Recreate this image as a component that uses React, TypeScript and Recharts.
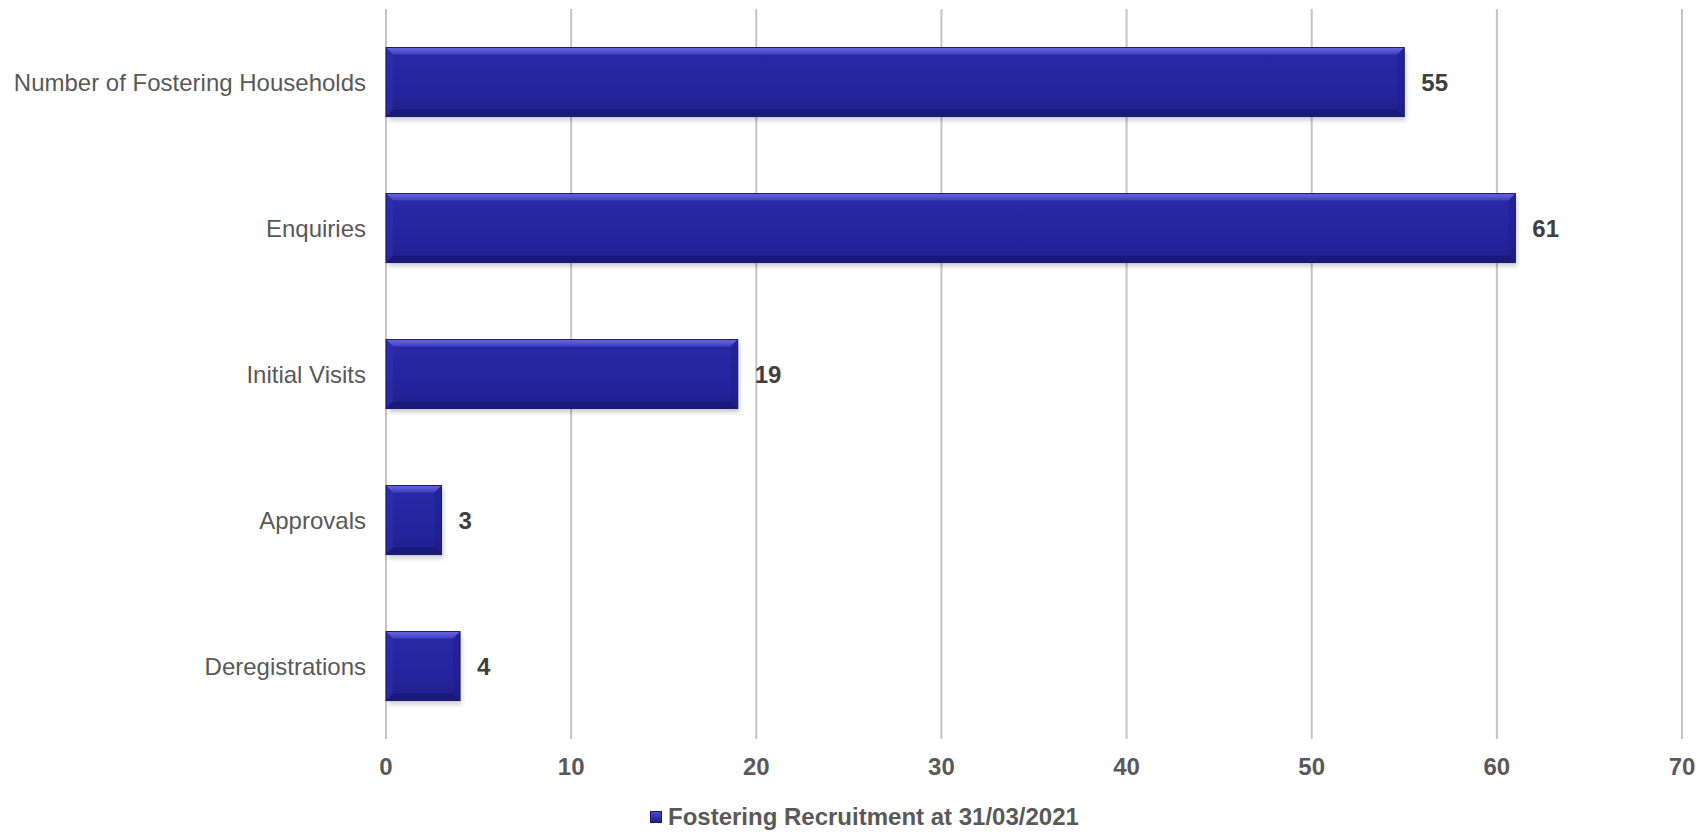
import { Bar, BarChart, CartesianGrid, LabelList, Legend, XAxis, YAxis } from "recharts";

const CATEGORIES = [
  "Number of Fostering Households",
  "Enquiries",
  "Initial Visits",
  "Approvals",
  "Deregistrations",
];
const VALUES = [55, 61, 19, 3, 4];
const X_TICKS = [0, 10, 20, 30, 40, 50, 60, 70];
const SERIES_NAME = "Fostering Recruitment at 31/03/2021";

const data = CATEGORIES.map((name, i) => ({ name, value: VALUES[i] }));

const FONT = "Arial, 'Liberation Sans', sans-serif";

// bevelled bar like the office chart style
const BevelBar = (props: any) => {
  const { x, y, width, height } = props;
  if (!width || width <= 0) return null;
  const b = Math.min(7, width / 2);
  return (
    <g>
      <rect x={x + 2} y={y + 4} width={width} height={height} fill="#000" opacity={0.18} filter="url(#barShadow)" />
      <rect x={x} y={y} width={width} height={height} fill="url(#barBody)" />
      {/* top bevel */}
      <polygon
        points={`${x},${y} ${x + width},${y} ${x + width - b},${y + b} ${x + b},${y + b}`}
        fill="url(#bevelTop)"
      />
      {/* left bevel */}
      <polygon
        points={`${x},${y} ${x + b},${y + b} ${x + b},${y + height - b} ${x},${y + height}`}
        fill="#3030b4"
        opacity={0.5}
      />
      {/* right bevel */}
      <polygon
        points={`${x + width},${y} ${x + width},${y + height} ${x + width - b},${y + height - b} ${x + width - b},${y + b}`}
        fill="#1c1c80"
        opacity={0.4}
      />
      {/* bottom bevel */}
      <polygon
        points={`${x},${y + height} ${x + width},${y + height} ${x + width - b},${y + height - b} ${x + b},${y + height - b}`}
        fill="#17176c"
        opacity={0.7}
      />
      <rect x={x} y={y} width={width} height={height} fill="none" stroke="#1a1a70" strokeWidth={1} />
    </g>
  );
};

const LegendContent = () => (
  <div style={{ display: "flex", alignItems: "center", height: 34, fontFamily: FONT }}>
    <span
      style={{
        width: 12,
        height: 12,
        background: "linear-gradient(#4a4ad4, #1e1e8c)",
        border: "1px solid #1a1a70",
        boxSizing: "border-box",
        marginRight: 6,
      }}
    />
    <span style={{ fontSize: 24, fontWeight: "bold", color: "#595959", whiteSpace: "nowrap" }}>{SERIES_NAME}</span>
  </div>
);

export default function App() {
  return (
    <div style={{ position: "absolute", left: 0, top: 0, background: "#fff" }}>
      <BarChart
        width={1704}
        height={834}
        data={data}
        layout="vertical"
        margin={{ top: 9, right: 22, bottom: 0, left: 0 }}
        barCategoryGap="26.4%"
      >
        <defs>
          <linearGradient id="barBody" x1="0" y1="0" x2="0" y2="1">
            <stop offset="0%" stopColor="#2a2aa8" />
            <stop offset="50%" stopColor="#2525a2" />
            <stop offset="100%" stopColor="#20208f" />
          </linearGradient>
          <linearGradient id="bevelTop" x1="0" y1="0" x2="0" y2="1">
            <stop offset="0%" stopColor="#6a6ae0" />
            <stop offset="100%" stopColor="#3d3dc0" />
          </linearGradient>
          <filter id="barShadow" x="-10%" y="-10%" width="120%" height="130%">
            <feGaussianBlur stdDeviation="2" />
          </filter>
        </defs>
        <CartesianGrid horizontal={false} vertical stroke="#c4c4c4" strokeWidth={2} />
        <XAxis
          type="number"
          domain={[0, 70]}
          ticks={X_TICKS}
          axisLine={false}
          tickLine={false}
          tickMargin={13}
          height={61}
          interval={0}
          tick={{ fill: "#595959", fontSize: 24, fontWeight: "bold", fontFamily: FONT }}
        />
        <YAxis
          type="category"
          dataKey="name"
          width={386}
          axisLine={false}
          tickLine={false}
          tickMargin={14}
          interval={0}
          tick={{ fill: "#595959", fontSize: 24, fontFamily: FONT }}
        />
        <Legend
          verticalAlign="bottom"
          content={<LegendContent />}
          wrapperStyle={{ left: 650, width: 500, bottom: 0 }}
        />
        <Bar dataKey="value" name={SERIES_NAME} shape={<BevelBar />} isAnimationActive={false}>
          <LabelList
            dataKey="value"
            position="right"
            offset={17}
            fill="#404040"
            fontSize={24}
            fontWeight="bold"
            fontFamily={FONT}
          />
        </Bar>
      </BarChart>
    </div>
  );
}
